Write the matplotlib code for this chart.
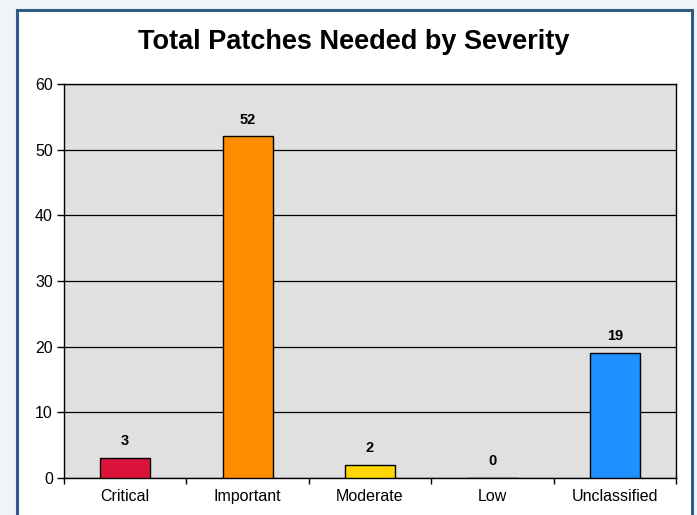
import matplotlib.pyplot as plt
from matplotlib.patches import Rectangle

categories = ["Critical", "Important", "Moderate", "Low", "Unclassified"]
patches_needed = [3, 52, 2, 0, 19]
bar_colors = ["#DC143C", "#FF8C00", "#FFD700", "#B0B0B0", "#1E90FF"]
y_ticks = [0, 10, 20, 30, 40, 50, 60]

plt.rcParams["font.family"] = ["Liberation Sans", "DejaVu Sans"]

fig = plt.figure(figsize=(6.97, 5.15), dpi=100, facecolor="#EEF4F8")

# white panel with dark blue frame
frame = Rectangle((0.0244, -0.02), 0.969, 1.0006, transform=fig.transFigure,
                  facecolor="white", edgecolor="#2E5C85", linewidth=2.2,
                  zorder=-10)
fig.patches.append(frame)

ax = fig.add_axes([0.0918, 0.0718, 0.8782, 0.7652])
ax.set_facecolor("#E0E0E0")

x = list(range(len(categories)))
ax.bar(x, patches_needed, width=0.41, color=bar_colors,
       edgecolor="black", linewidth=1.0, zorder=3)

for xi, v in zip(x, patches_needed):
    ax.text(xi, v + 1.5, str(v), ha="center", va="bottom",
            fontsize=10.5, fontweight="bold", zorder=4)

ax.set_xlim(-0.5, len(categories) - 0.5)
ax.set_ylim(0, 60)
ax.set_yticks(y_ticks)
ax.yaxis.grid(True, color="black", linewidth=0.9, zorder=1)
ax.set_axisbelow(True)

ax.set_xticks(x)
ax.set_xticklabels(categories, fontsize=11.5)
ax.set_xticks([i + 0.5 for i in range(-1, len(categories))], minor=True)
ax.tick_params(axis="x", which="major", length=0, pad=8)
ax.tick_params(axis="x", which="minor", length=4, direction="out", width=1)
ax.tick_params(axis="y", length=5, direction="out", width=1,
               labelsize=11.5, pad=3)

for side in ["left", "bottom", "right", "top"]:
    ax.spines[side].set_color("black")
    ax.spines[side].set_linewidth(1.0)

fig.text(0.508, 0.918, "Total Patches Needed by Severity", ha="center",
         va="center", fontsize=19.5, fontweight="bold")

fig.savefig("out.png", dpi=100, facecolor=fig.get_facecolor())
